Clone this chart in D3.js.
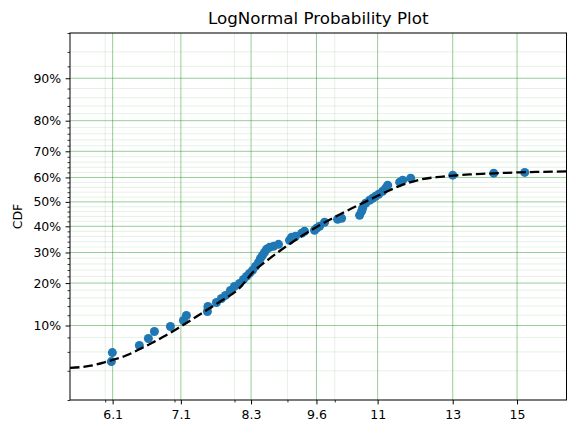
<!DOCTYPE html>
<html><head><meta charset="utf-8">
<script src="https://cdn.jsdelivr.net/npm/d3@7"></script>
<style>
body{margin:0;background:#fff}
svg{display:block}
text{font-family:"DejaVu Sans",sans-serif;fill:#000}
</style>
</head><body>
<svg id="c" width="576" height="434"></svg>
<script>
// ---- data ----
const pointX = [6.083, 6.096, 6.474, 6.605, 6.694, 6.937, 7.141, 7.188, 7.532, 7.541, 7.685, 7.771, 7.841, 7.928, 7.999, 8.089, 8.161, 8.216, 8.271, 8.326, 8.382, 8.438, 8.476, 8.514, 8.552, 8.590, 8.648, 8.725, 8.823, 9.042, 9.082, 9.163, 9.287, 9.348, 9.559, 9.602, 9.667, 9.775, 10.062, 10.153, 10.567, 10.615, 10.638, 10.710, 10.805, 10.878, 10.951, 11.025, 11.124, 11.197, 11.248, 11.552, 11.630, 11.839, 13.00, 14.242, 15.259];
const pointCDF = [0.0489, 0.0591, 0.0682, 0.0783, 0.0895, 0.0982, 0.1094, 0.1195, 0.1280, 0.1391, 0.1486, 0.1584, 0.1661, 0.1793, 0.1904, 0.1990, 0.2108, 0.2199, 0.2293, 0.2388, 0.2519, 0.2653, 0.2791, 0.2897, 0.3004, 0.3114, 0.3188, 0.3225, 0.3300, 0.3452, 0.3567, 0.3606, 0.3723, 0.3802, 0.3842, 0.3921, 0.4001, 0.4163, 0.4285, 0.4325, 0.4448, 0.4613, 0.4737, 0.4944, 0.5068, 0.5151, 0.5234, 0.5317, 0.5441, 0.5564, 0.5687, 0.5809, 0.5890, 0.5970, 0.6091, 0.6170, 0.6200];

const curveX = [5.548, 5.792, 5.989, 6.100, 6.285, 6.474, 6.669, 6.871, 7.078, 7.290, 7.511, 7.737, 8.089, 8.332, 8.648, 8.976, 9.314, 9.667, 10.033, 10.411, 10.805, 11.215, 11.638, 12.079, 12.537, 13.008, 13.501, 14.012, 14.541, 15.091, 15.663, 16.745];
const curveCDF = [0.0426, 0.0445, 0.0481, 0.0507, 0.0556, 0.0632, 0.0724, 0.0833, 0.0968, 0.1124, 0.1301, 0.1498, 0.1857, 0.2324, 0.2781, 0.3225, 0.3645, 0.4042, 0.4407, 0.4758, 0.5089, 0.5420, 0.5707, 0.5910, 0.6011, 0.6071, 0.6119, 0.6150, 0.6178, 0.6202, 0.6218, 0.6241];

const xTickValues = [6.1, 7.1, 8.3, 9.6, 11, 13, 15];
const xTickLabels = ["6.1", "7.1", "8.3", "9.6", "11", "13", "15"];
const xMinorTicks = [6, 7, 8, 9, 10];
const yTickValues = [0.1, 0.2, 0.3, 0.4, 0.5, 0.6, 0.7, 0.8, 0.9];
const yTickLabels = ["10%", "20%", "30%", "40%", "50%", "60%", "70%", "80%", "90%"];
const yMinorTicks = [0.02, 0.04, 0.06, 0.08, 0.12, 0.14, 0.16, 0.18, 0.22, 0.24, 0.26, 0.28, 0.32, 0.34, 0.36, 0.38, 0.42, 0.44, 0.46, 0.48, 0.52, 0.54, 0.56, 0.58, 0.62, 0.64, 0.66, 0.68, 0.72, 0.74, 0.76, 0.78, 0.82, 0.84, 0.86, 0.88, 0.92, 0.94, 0.96];
const xLimits = [5.548, 16.745];
const yLimits = [0.02, 0.96];
const titleText = "LogNormal Probability Plot";
const yLabelText = "CDF";

// ---- probit transform for the probability axis ----
function probit(p){
  const a=[-3.969683028665376e+01,2.209460984245205e+02,-2.759285104469687e+02,1.383577518672690e+02,-3.066479806614716e+01,2.506628277459239e+00];
  const b=[-5.447609879822406e+01,1.615858368580409e+02,-1.556989798598866e+02,6.680131188771972e+01,-1.328068155288572e+01];
  const c=[-7.784894002430293e-03,-3.223964580411365e-01,-2.400758277161838e+00,-2.549732539343734e+00,4.374664141464968e+00,2.938163982698783e+00];
  const d=[7.784695709041462e-03,3.224671290700398e-01,2.445134137142996e+00,3.754408661907416e+00];
  const pl=0.02425, ph=1-pl; let q,r;
  if(p<pl){q=Math.sqrt(-2*Math.log(p));return (((((c[0]*q+c[1])*q+c[2])*q+c[3])*q+c[4])*q+c[5])/((((d[0]*q+d[1])*q+d[2])*q+d[3])*q+1);}
  if(p<=ph){q=p-0.5;r=q*q;return (((((a[0]*r+a[1])*r+a[2])*r+a[3])*r+a[4])*r+a[5])*q/(((((b[0]*r+b[1])*r+b[2])*r+b[3])*r+b[4])*r+1);}
  q=Math.sqrt(-2*Math.log(1-p));return -(((((c[0]*q+c[1])*q+c[2])*q+c[3])*q+c[4])*q+c[5])/((((d[0]*q+d[1])*q+d[2])*q+d[3])*q+1);
}

const L=70, R=566.5, T=33, B=400;
const svg = d3.select("#c");
const x = d3.scaleLog().domain(xLimits).range([L, R]);
const yz = d3.scaleLinear().domain(yLimits.map(probit)).range([B, T]);
const y = p => yz(probit(p));

svg.append("defs").append("clipPath").attr("id","clip")
  .append("rect").attr("x",L).attr("y",T).attr("width",R-L).attr("height",B-T);

const grid = svg.append("g");
// minor grid
grid.selectAll(".mx").data(xMinorTicks).join("line")
  .attr("x1",d=>x(d)).attr("x2",d=>x(d)).attr("y1",T).attr("y2",B)
  .attr("stroke","#008000").attr("stroke-opacity",0.1).attr("stroke-width",1);
grid.selectAll(".my").data(yMinorTicks).join("line")
  .attr("x1",L).attr("x2",R).attr("y1",d=>y(d)).attr("y2",d=>y(d))
  .attr("stroke","#008000").attr("stroke-opacity",0.1).attr("stroke-width",1);
// major grid
grid.selectAll(".Mx").data(xTickValues).join("line")
  .attr("x1",d=>x(d)).attr("x2",d=>x(d)).attr("y1",T).attr("y2",B)
  .attr("stroke","#008000").attr("stroke-opacity",0.4).attr("stroke-width",1);
grid.selectAll(".My").data(yTickValues).join("line")
  .attr("x1",L).attr("x2",R).attr("y1",d=>y(d)).attr("y2",d=>y(d))
  .attr("stroke","#008000").attr("stroke-opacity",0.4).attr("stroke-width",1);

// points
const plot = svg.append("g").attr("clip-path","url(#clip)");
plot.selectAll("circle").data(pointX).join("circle")
  .attr("cx",d=>x(d)).attr("cy",(d,i)=>y(pointCDF[i])).attr("r",4.5)
  .attr("fill","#1f77b4");

// fitted curve
const line = d3.line().x(d=>x(d[0])).y(d=>y(d[1])).curve(d3.curveMonotoneX);
plot.append("path").datum(curveX.map((v,i)=>[v,curveCDF[i]]))
  .attr("d",line).attr("fill","none").attr("stroke","#000")
  .attr("stroke-width",2.3).attr("stroke-dasharray","9.5,4");

// axes
const fs = "12.5px";
const xAxis = svg.append("g").attr("transform",`translate(0,${B})`)
  .call(d3.axisBottom(x).tickValues(xTickValues).tickFormat((d,i)=>xTickLabels[i]).tickSize(4.4).tickPadding(6).tickSizeOuter(0));
xAxis.select(".domain").remove();
xAxis.selectAll("text").attr("font-size",fs).attr("font-family","DejaVu Sans");
xAxis.selectAll("line").attr("stroke","#000").attr("stroke-width",1);
const xMinorAxis = svg.append("g").attr("transform",`translate(0,${B})`)
  .call(d3.axisBottom(x).tickValues(xMinorTicks).tickFormat("").tickSize(2.5).tickSizeOuter(0));
xMinorAxis.select(".domain").remove();
xMinorAxis.selectAll("line").attr("stroke","#000").attr("stroke-width",0.8);

const yAxis = svg.append("g").attr("transform",`translate(${L},0)`)
  .call(d3.axisLeft(yz).tickValues(yTickValues.map(probit)).tickFormat((d,i)=>yTickLabels[i]).tickSize(4.4).tickPadding(4.4).tickSizeOuter(0));
yAxis.select(".domain").remove();
yAxis.selectAll("text").attr("font-size",fs).attr("font-family","DejaVu Sans");
yAxis.selectAll("line").attr("stroke","#000").attr("stroke-width",1);
const yMinorAxis = svg.append("g").attr("transform",`translate(${L},0)`)
  .call(d3.axisLeft(yz).tickValues(yMinorTicks.map(probit)).tickFormat("").tickSize(2.5).tickSizeOuter(0));
yMinorAxis.select(".domain").remove();
yMinorAxis.selectAll("line").attr("stroke","#000").attr("stroke-width",0.8);

// frame
svg.append("rect").attr("x",L).attr("y",T).attr("width",R-L).attr("height",B-T)
  .attr("fill","none").attr("stroke","#000").attr("stroke-width",1);

// title & label
svg.append("text").attr("x",(L+R)/2).attr("y",23.5).attr("text-anchor","middle")
  .attr("font-size","16.7px").text(titleText);
svg.append("text").attr("transform",`translate(21.5,${(T+B)/2}) rotate(-90)`)
  .attr("text-anchor","middle").attr("font-size",fs).text(yLabelText);
</script>
</body></html>
